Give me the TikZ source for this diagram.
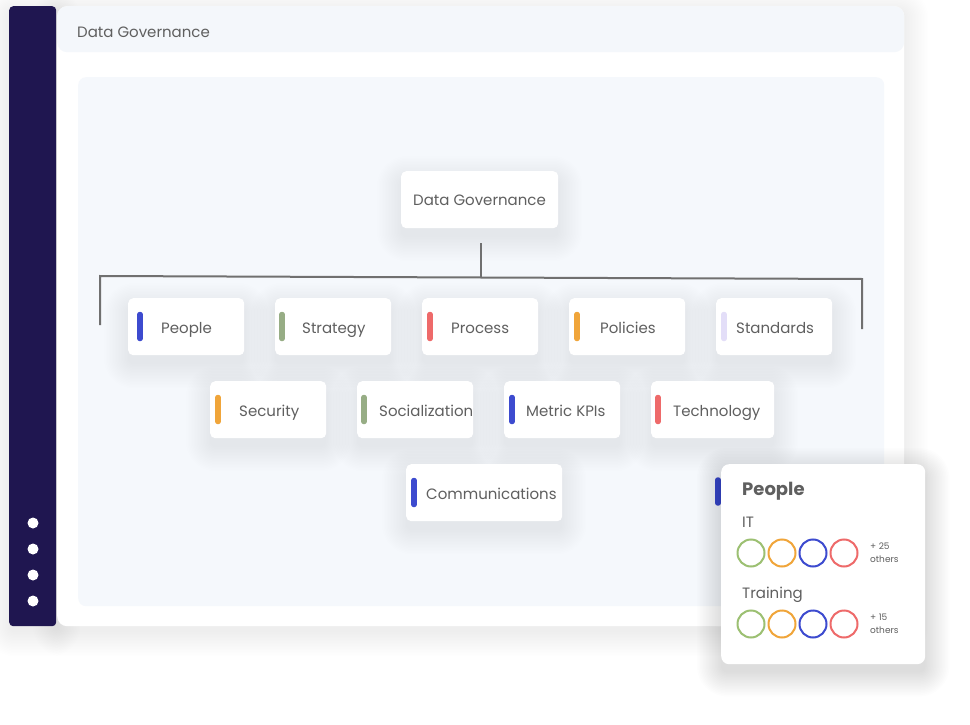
\documentclass[tikz,border=0pt]{standalone}
\usepackage{fontspec}
\setmainfont{Poppins}
\pgfdeclarelayer{back0}\pgfdeclarelayer{back}\pgfdeclarelayer{shade}\pgfdeclarelayer{popshade}\pgfdeclarelayer{front}
\pgfsetlayers{back0,back,shade,main,popshade,front}
\definecolor{navy}{HTML}{1F1650}
\definecolor{hdr}{HTML}{F4F7FB}
\definecolor{panelc}{HTML}{F5F8FC}
\definecolor{txt}{HTML}{5F5F5F}
\definecolor{cblue}{HTML}{3D4BCF}
\definecolor{cgreen}{HTML}{97AD85}
\definecolor{cred}{HTML}{EE6A6A}
\definecolor{corange}{HTML}{F0A53A}
\definecolor{clav}{HTML}{E3DEF8}
\definecolor{lgreen}{HTML}{9CC072}
\definecolor{linec}{HTML}{707070}
\newcommand\softshadow[4]{% layer, node, opacity, yshift
 \begin{pgfonlayer}{#1}
 \foreach \e [evaluate=\e as \r using 6+\e] in {0,1.5,...,24}{
  \fill[black,opacity=#3,rounded corners=\r pt] ([xshift=-\e, yshift=\e-#4]#2.north west) rectangle ([xshift=\e, yshift=-\e-#4]#2.south east);}
 \end{pgfonlayer}}
\tikzset{
 card/.style={fill=white, rounded corners=5pt, minimum height=57pt, inner sep=0pt, anchor=north west},
 lbl/.style={anchor=base west, text=txt, inner sep=0pt, font=\fontsize{15}{18}\selectfont},
 colbar/.style={line width=5.5pt, line cap=round},
 treeline/.style={draw=linec, line width=2pt},
 ring/.style={circle, draw, line width=2pt, minimum size=27pt, inner sep=0pt},
 small/.style={anchor=base west, text=txt, inner sep=0pt, font=\fontsize{9}{11}\selectfont},
 poptext/.style={anchor=base west, text=txt, inner sep=0pt, font=\fontsize{15}{18}\selectfont},
 dot/.style={circle, fill=white, minimum size=11pt, inner sep=0pt},
}
\begin{document}
\begin{tikzpicture}[x=1pt,y=-1pt]
\useasboundingbox (0,0) rectangle (970,725);
% background frame
\begin{pgfonlayer}{back}
\node[fill=white, rounded corners=10pt, minimum width=847pt, minimum height=620pt, inner sep=0pt, anchor=north west] (maincard) at (57,6) {};
\node[fill=hdr, rounded corners=10pt, minimum width=847pt, minimum height=46pt, inner sep=0pt, anchor=north west] (header) at (57,6) {};
\node[fill=panelc, rounded corners=8pt, minimum width=806pt, minimum height=529pt, inner sep=0pt, anchor=north west] (panel) at (78,77) {};
\node[fill=navy, rounded corners=4pt, minimum width=47pt, minimum height=620pt, inner sep=0pt, anchor=north west] (sidebar) at (9,6) {};
\end{pgfonlayer}
\softshadow{back0}{maincard}{0.004}{6}
\softshadow{back0}{sidebar}{0.005}{6}
\node[anchor=base west, text=txt, inner sep=0pt, font=\fontsize{15}{18}\selectfont] (htitle) at (77,37.5) {Data Governance};
\foreach \i/\yy in {1/523,2/549,3/575,4/601}{\node[dot] (d\i) at (33,\yy) {};}

% root
\node[card, minimum width=157pt] (root) at (401,171) {};
\node[lbl, anchor=base] (roottxt) at (479.5,205) {Data Governance};
\softshadow{shade}{root}{0.0055}{9}

% tree lines
\coordinate (stem) at (481,243);
\coordinate (joint) at (481,277.5);
\coordinate (lefttop) at (100,276);
\coordinate (leftend) at (100,325);
\coordinate (righttop) at (862,279);
\coordinate (rightend) at (862,329);
\draw[treeline] (stem) -- (joint);
\draw[treeline] (leftend) -- (lefttop) -- (righttop) -- (rightend);

% cards
\foreach \nm/\bx/\by/\w/\barx/\tx/\col/\txt in {
 people/128/298/116/140/161/cblue/People,
 strategy/275/298/116/282/302/cgreen/Strategy,
 process/422/298/116/430/451/cred/Process,
 policies/569/298/116/577/600/corange/Policies,
 standards/716/298/116/724/736/clav/Standards,
 security/210/381/116/218/239/corange/Security,
 socialization/357/381/116/364/379/cgreen/Socialization,
 metric/504/381/116/512/526/cblue/Metric KPIs,
 technology/651/381/123/658/673/cred/Technology,
 communications/406/464/156/414/426/cblue/Communications}{
 \node[card, minimum width=\w pt] (\nm) at (\bx,\by) {};
 \softshadow{shade}{\nm}{0.0055}{9}
 \draw[colbar, \col] (\barx,\by+16.5) -- (\barx,\by+40.5);
 \node[lbl] (\nm txt) at (\tx,\by+35.5) {\txt};
}
% partially hidden card bar
\draw[colbar, cblue] (718,480) -- (718,503);

% popup
\begin{pgfonlayer}{front}
\node[fill=white, rounded corners=8pt, minimum width=204pt, minimum height=200pt, inner sep=0pt, anchor=north west] (popup) at (721,464) {};
\node[anchor=base west, text=txt, inner sep=0pt, font=\fontsize{18}{21}\selectfont\bfseries] (ptitle) at (742,495) {People};
\node[poptext] (pit) at (742,527) {IT};
\node[poptext] (ptrain) at (742,598) {Training};
\foreach \r/\yy in {a/553,b/624}{
 \node[ring, draw=lgreen] (\r1) at (751,\yy) {};
 \node[ring, draw=corange] (\r2) at (782,\yy) {};
 \node[ring, draw=cblue] (\r3) at (813,\yy) {};
 \node[ring, draw=cred] (\r4) at (844,\yy) {};
}
\node[small] (n1) at (870,549.5) {+ 25};
\node[small] (o1) at (870,562.5) {others};
\node[small] (n2) at (870,620.5) {+ 15};
\node[small] (o2) at (870,633.5) {others};
\end{pgfonlayer}
\softshadow{popshade}{popup}{0.006}{8}
\end{tikzpicture}
\end{document}
